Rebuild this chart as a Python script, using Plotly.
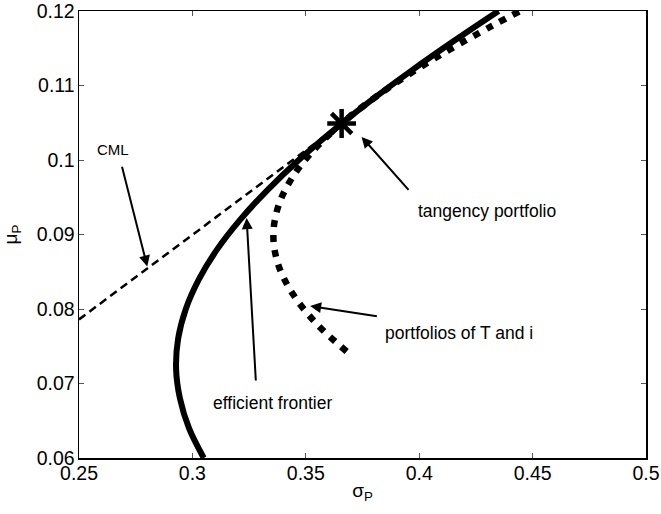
import plotly.graph_objects as go

FONT = "Liberation Sans, Arial, Helvetica, sans-serif"

# Efficient frontier (sigma_P, mu_P)
frontier_mu = [0.060, 0.064, 0.068, 0.072, 0.076, 0.080, 0.084, 0.088, 0.092,
               0.096, 0.100, 0.104, 0.108, 0.112, 0.116, 0.120]
frontier_sigma = [0.3050, 0.2985, 0.2945, 0.2928, 0.2937, 0.2971, 0.3029, 0.3109,
                  0.3211, 0.3332, 0.3469, 0.3622, 0.3788, 0.3966, 0.4154, 0.4350]

# Portfolios of T and i
ti_mu = [0.0743, 0.078, 0.082, 0.086, 0.090, 0.094, 0.098, 0.102, 0.106,
         0.110, 0.114, 0.118, 0.120]
ti_sigma = [0.3680, 0.3548, 0.3443, 0.3378, 0.3357, 0.3381, 0.3448, 0.3556,
            0.3702, 0.3880, 0.4088, 0.4321, 0.4445]

# Capital market line
cml_sigma = [0.25, 0.3658]
cml_mu = [0.0786, 0.1049]

# Tangency portfolio
tan_sigma = [0.3658]
tan_mu = [0.1049]

x_ticks = [0.25, 0.3, 0.35, 0.4, 0.45, 0.5]
x_ticktext = ["0.25", "0.3", "0.35", "0.4", "0.45", "0.5"]
y_ticks = [0.06, 0.07, 0.08, 0.09, 0.10, 0.11, 0.12]
y_ticktext = ["0.06", "0.07", "0.08", "0.09", "0.1", "0.11", "0.12"]

# annotations: text, text position, arrow tail, arrow tip, font size
notes = [
    ("CML", (0.2651, 0.1014), (0.2688, 0.0993), (0.2801, 0.0857), 15),
    ("tangency portfolio", (0.4298, 0.0931), (0.3959, 0.0958), (0.3746, 0.1031), 17.5),
    ("portfolios of T and i", (0.4176, 0.0768), (0.3820, 0.0790), (0.3519, 0.0804), 17.5),
    ("efficient frontier", (0.3355, 0.0674), (0.3280, 0.0702), (0.3239, 0.0922), 17.5),
]

fig = go.Figure()
fig.add_trace(go.Scatter(x=frontier_sigma, y=frontier_mu, mode="lines",
                         line=dict(color="black", width=6, shape="spline"),
                         showlegend=False))
fig.add_trace(go.Scatter(x=ti_sigma, y=ti_mu, mode="lines",
                         line=dict(color="black", width=6.5, dash="7px,8px", shape="spline"),
                         showlegend=False))
fig.add_trace(go.Scatter(x=cml_sigma, y=cml_mu, mode="lines",
                         line=dict(color="black", width=2.5, dash="8px,5px"),
                         showlegend=False))
fig.add_trace(go.Scatter(x=tan_sigma, y=tan_mu, mode="markers",
                         marker=dict(symbol="asterisk-open", size=24, color="black",
                                     line=dict(color="black", width=4.5)),
                         showlegend=False))

for text, tpos, tail, tip, fs in notes:
    fig.add_annotation(x=tpos[0], y=tpos[1], xref="x", yref="y", text=text,
                       showarrow=False, font=dict(family=FONT, size=fs, color="black"))
    fig.add_annotation(x=tip[0], y=tip[1], xref="x", yref="y",
                       ax=tail[0], ay=tail[1], axref="x", ayref="y", text="",
                       showarrow=True, arrowhead=2, arrowsize=1.1, arrowwidth=2,
                       arrowcolor="black", standoff=0, startstandoff=0)

axis_common = dict(showline=True, linecolor="black", linewidth=1.5, mirror="ticks",
                   ticks="inside", ticklen=5, tickwidth=1, tickcolor="#555555",
                   showgrid=False, zeroline=False, ticklabeloverflow="allow",
                   tickfont=dict(family=FONT, size=19.5, color="black"))

fig.update_xaxes(range=[0.25, 0.5], tickvals=x_ticks, ticktext=x_ticktext,
                 ticklabelstandoff=-3,
                 title=dict(text="σ<sub>P</sub>", font=dict(family=FONT, size=19, color="black"),
                            standoff=1),
                 **axis_common)
fig.update_yaxes(range=[0.06, 0.12], tickvals=y_ticks, ticktext=y_ticktext,
                 ticklabelstandoff=-1,
                 title=dict(text="μ<sub>P</sub>", font=dict(family=FONT, size=19, color="black"),
                            standoff=22),
                 **axis_common)

fig.update_layout(width=661, height=514,
                  margin=dict(l=79, r=15, t=11, b=56, autoexpand=False),
                  plot_bgcolor="white", paper_bgcolor="white",
                  font=dict(family=FONT, color="black"), hovermode=False)

fig.write_html("out.html", config={"displayModeBar": False, "staticPlot": True},
               post_script="document.body.style.margin='0px';document.body.style.overflow='hidden';")
